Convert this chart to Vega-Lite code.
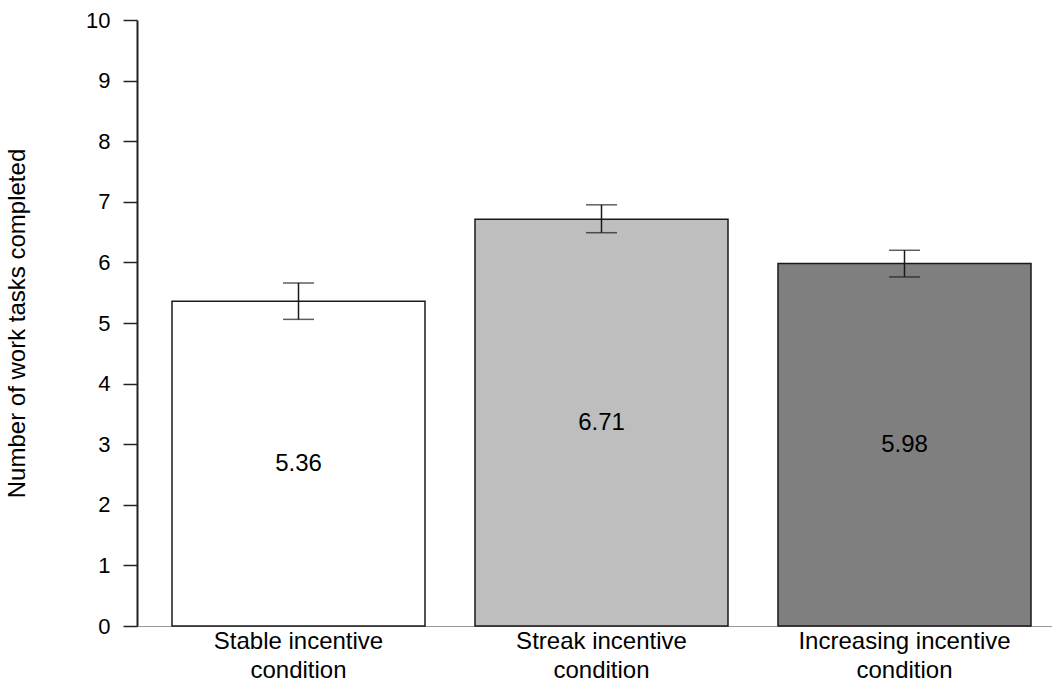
{
  "$schema": "https://vega.github.io/schema/vega-lite/v6.json",
  "autosize": "none",
  "padding": {"left": 137, "top": 20, "right": 0, "bottom": 55},
  "width": 915,
  "height": 606,
  "background": "white",
  "config": {
    "view": {"stroke": null},
    "font": "Liberation Sans",
    "axis": {"labelFont": "Liberation Sans", "titleFont": "Liberation Sans", "grid": false}
  },
  "data": {
    "values": [
      {"condition": "Stable incentive condition", "mean": 5.36, "lower": 5.06, "upper": 5.66},
      {"condition": "Streak incentive condition", "mean": 6.71, "lower": 6.49, "upper": 6.95},
      {"condition": "Increasing incentive condition", "mean": 5.98, "lower": 5.76, "upper": 6.2}
    ]
  },
  "encoding": {
    "x": {
      "field": "condition",
      "type": "nominal",
      "sort": null,
      "scale": {"paddingInner": 0.165, "paddingOuter": 0.0924, "align": 0.625},
      "axis": {
        "title": null,
        "domainColor": "#999999",
        "domainWidth": 1,
        "ticks": false,
        "labelAngle": 0,
        "labelFontSize": 24,
        "labelLimit": 0,
        "labelColor": "#000000",
        "labelPadding": 3,
        "labelLineHeight": 29,
        "labelExpr": "[replace(datum.label, ' condition', ''), 'condition']"
      }
    }
  },
  "layer": [
    {
      "mark": {"type": "bar", "stroke": "#1a1a1a", "strokeWidth": 1.5},
      "encoding": {
        "y": {
          "field": "mean",
          "type": "quantitative",
          "scale": {"domain": [0, 10], "nice": false},
          "axis": {
            "title": "Number of work tasks completed",
            "titleFontSize": 24,
            "titleFontWeight": "normal",
            "titleColor": "#000000",
            "titlePadding": 56,
            "values": [0, 1, 2, 3, 4, 5, 6, 7, 8, 9, 10],
            "format": "d",
            "domainColor": "#222222",
            "domainWidth": 2,
            "tickColor": "#222222",
            "tickWidth": 1.5,
            "tickSize": 14,
            "labelFontSize": 22,
            "labelColor": "#000000",
            "labelPadding": 13
          }
        },
        "fill": {
          "field": "condition",
          "type": "nominal",
          "sort": null,
          "scale": {"range": ["#ffffff", "#bebebe", "#7f7f7f"]},
          "legend": null
        }
      }
    },
    {
      "mark": {"type": "rule", "color": "#1a1a1a", "strokeWidth": 1.5},
      "encoding": {
        "y": {"field": "lower", "type": "quantitative"},
        "y2": {"field": "upper"}
      }
    },
    {
      "mark": {"type": "tick", "color": "#1a1a1a", "thickness": 1.5, "size": 31, "orient": "horizontal"},
      "encoding": {"y": {"field": "lower", "type": "quantitative"}}
    },
    {
      "mark": {"type": "tick", "color": "#1a1a1a", "thickness": 1.5, "size": 31, "orient": "horizontal"},
      "encoding": {"y": {"field": "upper", "type": "quantitative"}}
    },
    {
      "transform": [{"calculate": "datum.mean / 2", "as": "half"}],
      "mark": {"type": "text", "fontSize": 24, "color": "#000000", "baseline": "middle", "align": "center"},
      "encoding": {
        "y": {"field": "half", "type": "quantitative"},
        "text": {"field": "mean", "type": "quantitative", "format": ".2f"}
      }
    }
  ]
}
